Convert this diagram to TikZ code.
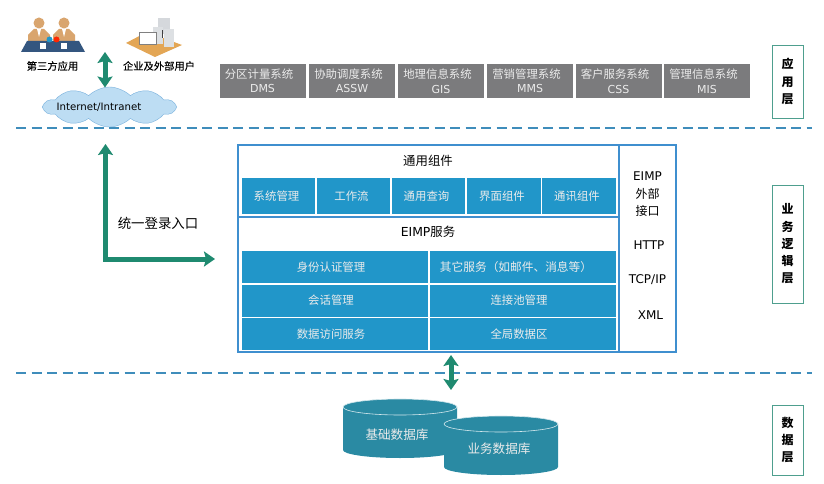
\documentclass[tikz,border=0pt]{standalone}
\usepackage{fontspec}
\setmainfont{DejaVu Sans}
\newfontfamily\cjk{Noto Sans CJK SC}
\newfontfamily\cjkheavy[FakeBold=0.25]{Noto Sans CJK SC}
\usetikzlibrary{arrows.meta,shapes.symbols}
\definecolor{sysgray}{HTML}{7B7B7D}
\definecolor{svcblue}{HTML}{2196C9}
\definecolor{edgeblue}{HTML}{3F8FCF}
\definecolor{arrowgreen}{HTML}{1F8A70}
\definecolor{layergreen}{HTML}{4E9F8E}
\definecolor{dashblue}{HTML}{3F8DBB}
\definecolor{dbteal}{HTML}{2A8AA3}
\definecolor{cloudblue}{HTML}{BDDDF3}
\definecolor{skintan}{HTML}{D9A56E}
\definecolor{tablenavy}{HTML}{34567F}
\definecolor{deskorange}{HTML}{E3A655}
\definecolor{pcgray}{HTML}{D5D8DC}
\newcommand{\fsz}[1]{\fontsize{#1}{#1}\selectfont}
\newcommand{\upline}[1]{\hspace*{-7pt}{\cjk\fsz{11.4}#1}}
\newcommand{\dbdrum}[3]{%
  \fill[dbteal] (#1,#2) -- (#1,#3) arc (180:360:57pt and 8pt) -- +(0,#2-#3) arc (0:180:57pt and 8pt) -- cycle;
  \draw[white!80!dbteal, line width=0.6pt] (#1,#2) arc (180:360:57pt and 8pt) arc (0:180:57pt and 8pt);}

\begin{document}
\begin{tikzpicture}[x=1pt, y=-1pt,
  every node/.style={inner sep=0pt, outer sep=0pt},
  sysbox/.style={fill=sysgray, text=white!92!black, align=center, minimum width=86pt, minimum height=34pt, font=\fsz{11}, execute at begin node={\baselineskip=14.5pt}},
  svcbox/.style={fill=svcblue, text=white!92!black, align=center, minimum height=32pt, minimum width=186pt, font=\fsz{11.4}, execute at begin node={\hspace*{-8pt}}},
  modbox/.style={fill=svcblue, text=white!92!black, align=center, minimum height=36pt, minimum width=73.5pt, font=\fsz{11.4}, execute at begin node={\hspace*{-4pt}}},
  layerbox/.style={draw=layergreen, line width=0.9pt, fill=white, align=center, minimum width=31pt, font=\fsz{12}\bfseries, execute at begin node={\baselineskip=17.25pt}},
  sepline/.style={draw=dashblue, line width=1.1pt, dash pattern=on 10pt off 5.5pt},
  frameline/.style={draw=edgeblue, line width=1.2pt},
  twoarrow/.style={draw=arrowgreen, line width=5pt, {Stealth[length=11pt,width=15pt,inset=2pt]}-{Stealth[length=11pt,width=15pt,inset=2pt]}},
  labeltext/.style={text=black, font=\fsz{12.4}},
  iconlabel/.style={text=black, font=\fsz{10.3}},
  dbtext/.style={text=white!92!black, font=\fsz{12.6}}]
  \useasboundingbox (0,0) rectangle (824,484);
  \fill[white] (0,0) rectangle (824,484);

  \fill[skintan] (28,45) -- (28,35) -- (34,29) -- (44,29) -- (50,35) -- (50,45) -- cycle;
  \fill[skintan] (53,45) -- (53,35) -- (59,29) -- (69,29) -- (75,35) -- (75,45) -- cycle;
  \fill[skintan] (39,23) circle (5.5pt);
  \fill[skintan] (64,23) circle (5.5pt);
  \fill[white] (37,29) -- (41,29) -- (39,37) -- cycle;
  \fill[white] (62,29) -- (66,29) -- (64,37) -- cycle;
  \fill[tablenavy] (27,41) -- (79,41) -- (85,52) -- (21,52) -- cycle;
  \fill[white] (40,43) rectangle (46,49);
  \fill[white] (61,43) rectangle (67,49);
  \fill[svcblue] (49.5,39.5) circle (3pt);
  \fill[red!70!orange] (56.5,39.5) circle (3pt);
  \fill[deskorange] (126,43) -- (147,32) -- (182,45) -- (155,57) -- cycle;
  \fill[pcgray] (158,18) rectangle (170,34);
  \fill[pcgray!80!white] (153,27) rectangle (163,44);
  \fill[pcgray!80!white] (164,29) rectangle (174,47);
  \fill[white] (139,32) rectangle (156,44);
  \draw[gray, line width=0.5pt] (139,32) rectangle (156,44);
  \fill[gray!50!black] (161.5,30) rectangle (162.5,38);

  \node[iconlabel] (thirdparty) at (52.5,66) {\cjkheavy 第三方应用};
  \node[iconlabel] (enterprise) at (159,66) {\cjkheavy 企业及外部用户};
  \node[cloud, cloud puffs=10, cloud puff arc=90, aspect=3.6, draw=edgeblue!70, fill=cloudblue, minimum width=131pt, minimum height=40pt] (inet) at (109.5,107) {};
  \node[font=\fsz{10.2}] (inettext) at (99,107.5) {Internet/Intranet};
  \coordinate (inettop) at (105,52);
  \coordinate (inetlow) at (105,87.5);
  \draw[twoarrow] (inettop) -- (inetlow);

  \node[sysbox] (dms) at (262.5,81) {\upline{分区计量系统}\\DMS};
  \node[sysbox] (assw) at (352,81) {\upline{协助调度系统}\\ASSW};
  \node[sysbox] (gis) at (441,81) {\upline{地理信息系统}\\GIS};
  \node[sysbox] (mms) at (530,81) {\upline{营销管理系统}\\MMS};
  \node[sysbox] (css) at (618.5,81) {\upline{客户服务系统}\\CSS};
  \node[sysbox] (mis) at (707,81) {\upline{管理信息系统}\\MIS};

  \node[layerbox, minimum height=73pt] (applayer) at (787.5,81.5) {\cjk 应\\\cjk 用\\\cjk 层};
  \node[layerbox, minimum height=118pt] (bizlayer) at (787.5,244) {\cjk 业\\\cjk 务\\\cjk 逻\\\cjk 辑\\\cjk 层};
  \node[layerbox, minimum height=70pt] (datalayer) at (787.5,440) {\cjk 数\\\cjk 据\\\cjk 层};

  \coordinate (sepa) at (16,128);
  \coordinate (sepb) at (812,128);
  \coordinate (sepc) at (16,373);
  \coordinate (sepd) at (812,373);
  \draw[sepline] (sepa) -- (sepb);
  \draw[sepline] (sepc) -- (sepd);

  \node[frameline, minimum width=381pt, minimum height=72pt] (common) at (428.5,181) {};
  \node[frameline, minimum width=381pt, minimum height=135pt] (service) at (428.5,284.5) {};
  \node[frameline, minimum width=57pt, minimum height=207pt] (iface) at (647.5,248.5) {};
  \node[labeltext] (commontitle) at (428,161) {\cjk 通用组件};
  \node[labeltext] (servicetitle) at (428,232) {EIMP{\cjk 服务}};

  \node[modbox] (sysmgr) at (278.5,196) {\cjk 系统管理};
  \node[modbox] (workflow) at (353.5,196) {\cjk 工作流};
  \node[modbox] (query) at (428.5,196) {\cjk 通用查询};
  \node[modbox] (uicomp) at (504,196) {\cjk 界面组件};
  \node[modbox] (comm) at (579,196) {\cjk 通讯组件};

  \node[svcbox] (auth) at (335,267) {\cjk 身份认证管理};
  \node[svcbox, font=\fsz{11.7}, execute at begin node={\hspace*{-6pt}}] (other) at (523,267) {\cjk 其它服务（如邮件、消息等）};
  \node[svcbox] (session) at (335,300.5) {\cjk 会话管理};
  \node[svcbox] (pool) at (523,300.5) {\cjk 连接池管理};
  \node[svcbox] (dao) at (335,334) {\cjk 数据访问服务};
  \node[svcbox] (globaldata) at (523,334) {\cjk 全局数据区};

  \node[labeltext, font=\fsz{12}, align=center, execute at begin node={\baselineskip=17.5pt}] (ifacetitle) at (647.5,194.5) {EIMP\\\cjk 外部\\\cjk 接口};
  \node[labeltext, font=\fsz{12}] (http) at (649,245) {HTTP};
  \node[labeltext, font=\fsz{12}] (tcpip) at (647.5,280) {TCP/IP};
  \node[labeltext, font=\fsz{12}] (xml) at (650.5,315) {XML};

  \coordinate (logintop) at (105.5,144);
  \coordinate (logincorner) at (105.5,259);
  \coordinate (loginend) at (215,259);
  \draw[twoarrow] (logintop) -- (logincorner) -- (loginend);
  \node[labeltext, font=\fsz{13.4}] (login) at (158,223) {\cjk 统一登录入口};

  \dbdrum{343}{407}{450}
  \dbdrum{444}{424}{467}
  \node[dbtext] (basedb) at (397,435) {\cjk 基础数据库};
  \node[dbtext] (bizdb) at (499,449) {\cjk 业务数据库};
  \coordinate (dbtop) at (451,355);
  \coordinate (dblow) at (451,390);
  \draw[twoarrow] (dbtop) -- (dblow);
\end{tikzpicture}
\end{document}
